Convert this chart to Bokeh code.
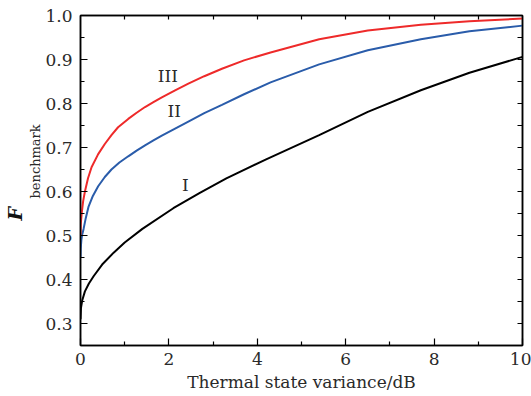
from bokeh.plotting import figure
from bokeh.models import LinearAxis, FixedTicker, Range1d, Label, PrintfTickFormatter, Title
from bokeh.embed import file_html
from bokeh.resources import INLINE

# ---- data ----
x_I = [0, 0.01, 0.04, 0.1, 0.19, 0.3, 0.49, 0.75, 1.0, 1.4, 2.1, 2.7, 3.3, 4.2, 5.4, 6.5, 7.7, 8.8, 10]
f_I = [0.31, 0.335, 0.353, 0.373, 0.391, 0.408, 0.434, 0.461, 0.484, 0.515, 0.562, 0.597, 0.630, 0.673, 0.728, 0.781, 0.830, 0.870, 0.906]

x_II = [0, 0.005, 0.02, 0.04, 0.07, 0.12, 0.18, 0.28, 0.4, 0.55, 0.7, 0.88, 1.08, 1.27, 1.46, 1.65, 1.84, 2.14, 2.44, 2.8, 3.2, 3.7, 4.3, 5.4, 6.5, 7.7, 8.8, 10]
f_II = [0.45, 0.47, 0.49, 0.503, 0.515, 0.54, 0.565, 0.59, 0.612, 0.633, 0.65, 0.666, 0.680, 0.693, 0.705, 0.716, 0.727, 0.743, 0.759, 0.778, 0.797, 0.821, 0.848, 0.889, 0.921, 0.946, 0.964, 0.977]

x_III = [0, 0.005, 0.03, 0.06, 0.1, 0.17, 0.25, 0.4, 0.55, 0.7, 0.85, 1.08, 1.27, 1.46, 1.65, 1.84, 2.14, 2.44, 2.8, 3.2, 3.7, 4.3, 5.4, 6.5, 7.7, 8.8, 10]
f_III = [0.50, 0.525, 0.553, 0.578, 0.60, 0.63, 0.655, 0.685, 0.708, 0.728, 0.746, 0.765, 0.779, 0.792, 0.803, 0.814, 0.830, 0.845, 0.862, 0.879, 0.898, 0.916, 0.946, 0.966, 0.979, 0.987, 0.993]

series_names = ["I", "II", "III"]
series_colors = ["#000000", "#2a5caa", "#ee2a2a"]
label_pos = [(2.37, 0.614), (2.12, 0.782), (1.975, 0.862)]

x_ticks = [0, 2, 4, 6, 8, 10]
x_minor = [1, 3, 5, 7, 9]
y_ticks = [0.3, 0.4, 0.5, 0.6, 0.7, 0.8, 0.9, 1.0]
y_minor = [0.25, 0.35, 0.45, 0.55, 0.65, 0.75, 0.85, 0.95]
x_edge_ticks = [1, 2, 3, 4, 5, 6, 7, 8, 9]
y_edge_ticks = [0.3, 0.35, 0.4, 0.45, 0.5, 0.55, 0.6, 0.65, 0.7, 0.75, 0.8, 0.85, 0.9, 0.95]

x_title = "Thermal state variance/dB"
y_title_main = "F"
y_title_sub = "benchmark"

FONT = "DejaVu Serif"
FS = "17px"
TXT = "#2a2a2a"

p = figure(width=531, height=396, output_backend="svg", toolbar_location=None,
           x_range=Range1d(0, 10), y_range=Range1d(0.25, 1.0),
           min_border_left=80, min_border_right=9, min_border_top=15, min_border_bottom=51)
p.grid.visible = False
p.background_fill_color = "white"
p.border_fill_color = "white"
p.outline_line_color = "black"
p.outline_line_width = 1.5


def style(ax):
    ax.axis_line_color = "black"
    ax.axis_line_width = 1.5
    ax.major_tick_in = 7
    ax.major_tick_out = 0
    ax.minor_tick_in = 4
    ax.minor_tick_out = 0
    ax.major_tick_line_color = "black"
    ax.minor_tick_line_color = "black"
    ax.major_tick_line_width = 1.2
    ax.minor_tick_line_width = 1.2
    ax.major_label_text_font = FONT
    ax.major_label_text_font_size = FS
    ax.major_label_text_color = TXT


p.xaxis.ticker = FixedTicker(ticks=x_ticks, minor_ticks=x_minor)
p.yaxis.ticker = FixedTicker(ticks=y_ticks, minor_ticks=y_minor)
p.yaxis.formatter = PrintfTickFormatter(format="%.1f")
style(p.xaxis[0])
style(p.yaxis[0])
p.xaxis.major_label_standoff = 7
p.yaxis.major_label_standoff = 8
p.xaxis.axis_label = x_title
p.xaxis.axis_label_text_font = FONT
p.xaxis.axis_label_text_font_size = FS
p.xaxis.axis_label_text_font_style = "normal"
p.xaxis.axis_label_text_color = TXT
p.xaxis.axis_label_standoff = 4

# top and right edges: tick marks only (no labels)
top = LinearAxis(ticker=FixedTicker(ticks=[], minor_ticks=x_edge_ticks))
style(top)
top.minor_tick_in = 4
top.major_label_standoff = 0
p.add_layout(top, "above")
right = LinearAxis(ticker=FixedTicker(ticks=[], minor_ticks=y_edge_ticks))
style(right)
right.minor_tick_in = 5
right.major_label_standoff = 0
p.add_layout(right, "right")

for xs, ys, c in zip([x_I, x_II, x_III], [f_I, f_II, f_III], series_colors):
    p.line(xs, ys, line_color=c, line_width=2)

for name, (lx, ly) in zip(series_names, label_pos):
    p.add_layout(Label(x=lx, y=ly, text=name, text_align="center", text_baseline="middle",
                       text_font=FONT, text_font_size=FS, text_color=TXT))

# y-axis title: bold italic F with subscript, as side titles (outside the frame)
p.add_layout(Title(text=y_title_sub, align="left", offset=147, standoff=0,
                   text_font=FONT, text_font_size="13px", text_font_style="normal",
                   text_color=TXT), "left")
p.add_layout(Title(text=y_title_main, align="left", offset=125, standoff=0,
                   text_font=FONT, text_font_size="19px", text_font_style="bold italic",
                   text_color="#111111"), "left")

open("out.html", "w").write(file_html(p, INLINE))
